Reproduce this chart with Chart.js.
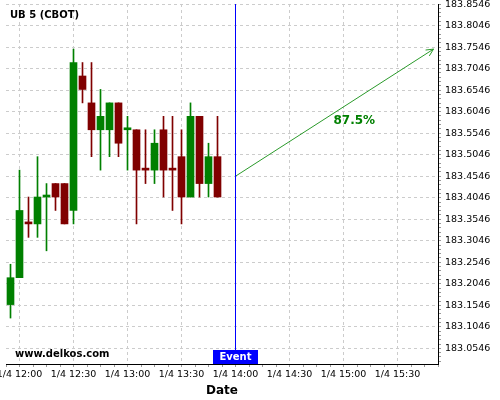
<!DOCTYPE html>
<html>
<head>
<meta charset="utf-8">
<script src="https://cdn.jsdelivr.net/npm/chart.js@4/dist/chart.umd.min.js"></script>
<style>
html,body{margin:0;padding:0;background:#fff;}
#wrap{width:500px;height:400px;position:relative;}
</style>
</head>
<body>
<div id="wrap"><canvas id="c" width="500" height="400"></canvas></div>
<script>
// ---- data ----
const chartTitle = 'UB 5 (CBOT)';
const watermark = 'www.delkos.com';
const dayLabel = '1/4';
const times = ['11:55','12:00','12:05','12:10','12:15','12:20','12:25','12:30','12:35','12:40','12:45','12:50',
               '12:55','13:00','13:05','13:10','13:15','13:20','13:25','13:30','13:35','13:40','13:45','13:50'];
const opens  = [183.15625,183.21875,183.34375,183.34375,183.40625,183.4375,183.4375,183.375,183.6875,183.625,183.5625,183.5625,
                183.625,183.5625,183.5625,183.46875,183.46875,183.5625,183.46875,183.5,183.40625,183.59375,183.4375,183.5];
const highs  = [183.25,183.46875,183.40625,183.5,183.4375,183.4375,183.4375,183.75,183.71875,183.71875,183.65625,183.625,
                183.625,183.59375,183.5625,183.5625,183.5625,183.59375,183.59375,183.5625,183.625,183.59375,183.53125,183.59375];
const lows   = [183.125,183.21875,183.3125,183.3125,183.28125,183.375,183.34375,183.34375,183.625,183.5,183.46875,183.5,
                183.5,183.46875,183.34375,183.4375,183.4375,183.40625,183.375,183.34375,183.40625,183.40625,183.40625,183.40625];
const closes = [183.21875,183.375,183.34375,183.40625,183.40625,183.40625,183.34375,183.71875,183.65625,183.5625,183.59375,183.625,
                183.53125,183.5625,183.46875,183.46875,183.53125,183.46875,183.46875,183.40625,183.59375,183.4375,183.5,183.40625];
const bullish = [1,1,0,1,1,0,0,1,0,0,1,1,0,1,0,0,1,0,0,0,1,0,1,0];
const eventTime = '14:00';
const eventLabel = 'Event';
const arrowTimes = ['14:00','15:50'];
const arrowValues = [183.4546,183.75];
const arrowText = '87.5%';
const arrowTextAt = {time:'15:06', value:183.584};
const axisTitle = 'Date';
const yTickBase = 183.0546, yTickMajor = 0.05, yTickMinor = 0.01;
const yMin = 183.0182, yMax = 183.8548;
const xMinTime = '11:52:30', xMaxTime = '15:52:30';
const xTickMinor = 7.5, xTickMajor = 30;

// ---- helpers ----
function toMin(s){const p=s.split(':').map(Number);return (p[0]-12)*60+p[1]+(p[2]||0)/60;}
function fmtTime(m){const h=12+Math.floor(m/60);const mm=Math.round(m-Math.floor(m/60)*60);return h+':'+String(mm).padStart(2,'0');}
const UP='#008000', DOWN='#800000';
const colors = bullish.map(b=>b?UP:DOWN);
const xs = times.map(toMin);

const wickData = xs.map((x,i)=>({x:x,y:[lows[i],highs[i]]}));
const bodyData = xs.map((x,i)=>({x:x,y:[opens[i],closes[i]]}));
const evX = toMin(eventTime);
const arrowData = arrowTimes.map((t,i)=>({x:toMin(t),y:arrowValues[i]}));

const FONT = "'DejaVu Sans', sans-serif";

const overlay = {
  id:'overlay',
  afterDatasetsDraw(chart){
    const ctx = chart.ctx, xS = chart.scales.x, yS = chart.scales.y, a = chart.chartArea;
    ctx.save();
    // title
    ctx.fillStyle='#000'; ctx.font='bold 10px '+FONT; ctx.textBaseline='middle'; ctx.textAlign='left';
    ctx.fillText(chartTitle, 10, 15.5);
    // watermark
    ctx.fillText(watermark, 15, 354.5);
    // arrow head
    const p0 = {x:xS.getPixelForValue(arrowData[0].x), y:yS.getPixelForValue(arrowData[0].y)};
    const p1 = {x:xS.getPixelForValue(arrowData[1].x), y:yS.getPixelForValue(arrowData[1].y)};
    const ang = Math.atan2(p1.y-p0.y, p1.x-p0.x);
    ctx.strokeStyle='#2a9a2a'; ctx.lineWidth=1;
    ctx.beginPath();
    const L=8, sp=0.45;
    ctx.moveTo(p1.x-L*Math.cos(ang-sp), p1.y-L*Math.sin(ang-sp));
    ctx.lineTo(p1.x, p1.y);
    ctx.lineTo(p1.x-L*Math.cos(ang+sp), p1.y-L*Math.sin(ang+sp));
    ctx.stroke();
    // arrow text
    ctx.fillStyle='#008000'; ctx.font='bold 12px '+FONT; ctx.textAlign='center';
    ctx.fillText(arrowText, xS.getPixelForValue(toMin(arrowTextAt.time)), yS.getPixelForValue(arrowTextAt.value));
    // event box
    const ex = xS.getPixelForValue(evX);
    ctx.fillStyle='#0000ff';
    ctx.fillRect(ex-22.5, a.bottom-14, 45, 14);
    ctx.fillStyle='#fff'; ctx.font='bold 10px '+FONT; ctx.textAlign='center';
    ctx.fillText(eventLabel, ex, a.bottom-6.5);
    ctx.restore();
  }
};

const isMajorY = v => Math.abs((v-yTickBase)/yTickMajor - Math.round((v-yTickBase)/yTickMajor)) < 1e-6;
const isMajorX = v => Math.abs(v/xTickMajor - Math.round(v/xTickMajor)) < 1e-6;

new Chart(document.getElementById('c'), {
  type:'bar',
  data:{
    datasets:[
      {type:'line', data:[{x:evX,y:yMax},{x:evX,y:yMin}], borderColor:'#0000ff', borderWidth:1, pointRadius:0, order:1},
      {type:'line', data:arrowData, borderColor:'#2a9a2a', borderWidth:1, pointRadius:0, order:1},
      {type:'bar', data:bodyData, backgroundColor:colors, barThickness:7, minBarLength:2, grouped:false, borderWidth:0, order:2},
      {type:'bar', data:wickData, backgroundColor:colors, barThickness:1, grouped:false, borderWidth:0, order:3}
    ]
  },
  options:{
    responsive:false, animation:false,
    layout:{padding:{left:6, top:4, right:0, bottom:0}},
    plugins:{legend:{display:false}, tooltip:{enabled:false}, title:{display:false}},
    scales:{
      x:{
        type:'linear', offset:false, min:toMin(xMinTime), max:toMin(xMaxTime),
        grid:{offset:false, color:c=>isMajorX(c.tick.value)?'#cccccc':'rgba(0,0,0,0)', tickColor:'#999', tickLength:3, lineWidth:1},
        border:{display:true, color:'#000', width:1, dash:[3,3]},
        afterBuildTicks:s=>{const t=[];for(let v=s.min;v<=s.max+1e-9;v+=xTickMinor)t.push({value:v});s.ticks=t;},
        ticks:{autoSkip:false, maxRotation:0, padding:2, color:'#000', font:{family:FONT, size:9.5},
          callback:v=>isMajorX(v)?dayLabel+' '+fmtTime(v):''},
        title:{display:true, text:axisTitle, color:'#000', font:{family:FONT, size:12, weight:'bold'}, padding:{top:0,bottom:2}},
        afterFit:s=>{s.height=36; s.paddingLeft=0; s.paddingRight=0;}
      },
      y:{
        type:'linear', position:'right', min:yMin, max:yMax, beginAtZero:false,
        grid:{color:c=>isMajorY(c.tick.value)?'#cccccc':'rgba(0,0,0,0)', tickColor:'#999', tickLength:3, lineWidth:1},
        border:{display:true, color:'#000', width:1, dash:[3,3]},
        afterBuildTicks:s=>{const t=[];for(let k=-3;;k++){const v=+(yTickBase+k*yTickMinor).toFixed(4);if(v>s.max+1e-9)break;if(v>=s.min)t.push({value:v});}s.ticks=t;},
        ticks:{autoSkip:false, padding:4, color:'#000', font:{family:FONT, size:9.5},
          callback:v=>isMajorY(v)?v.toFixed(4):''},
        afterFit:s=>{s.width=62; s.paddingTop=0; s.paddingBottom=0;}
      }
    }
  },
  plugins:[overlay]
});
</script>
</body>
</html>
